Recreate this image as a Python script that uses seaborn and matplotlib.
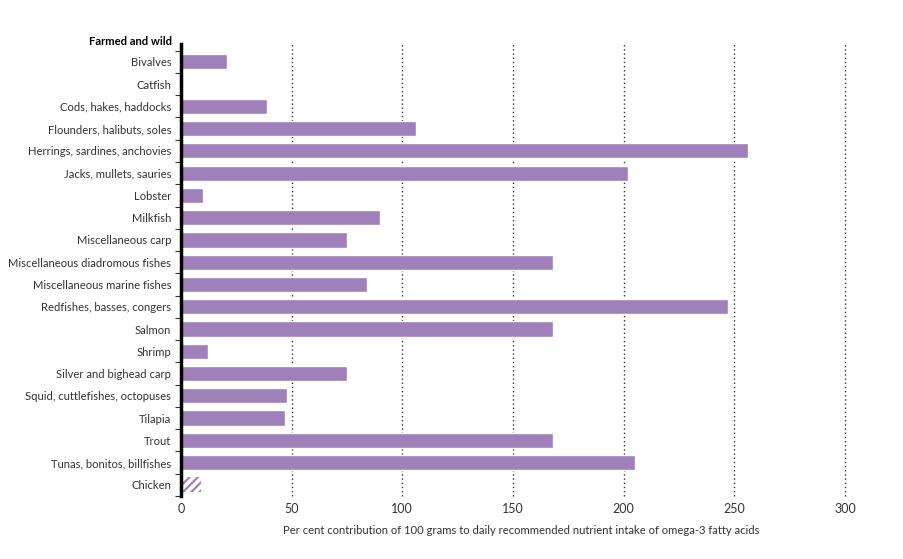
import matplotlib
matplotlib.use('Agg')
import matplotlib.pyplot as plt
import seaborn as sns
import numpy as np
import pandas as pd

# data
species = ['Bivalves', 'Catfish', 'Cods, hakes, haddocks', 'Flounders, halibuts, soles',
           'Herrings, sardines, anchovies', 'Jacks, mullets, sauries', 'Lobster', 'Milkfish',
           'Miscellaneous carp', 'Miscellaneous diadromous fishes', 'Miscellaneous marine fishes',
           'Redfishes, basses, congers', 'Salmon', 'Shrimp', 'Silver and bighead carp',
           'Squid, cuttlefishes, octopuses', 'Tilapia', 'Trout', 'Tunas, bonitos, billfishes',
           'Chicken']
omega3 = [21, 0, 39, 106, 256, 202, 10, 90, 75, 168, 84, 247, 168, 12, 75, 48, 47, 168, 205, 9]
x_ticks = [0, 50, 100, 150, 200, 250, 300]

purple = '#a080bb'

sns.set_style('white')
plt.rcParams['font.family'] = ['Lato', 'DejaVu Sans']
plt.rcParams['hatch.linewidth'] = 1.6

df = pd.DataFrame({'species': species, 'omega3': omega3})

fig = plt.figure(figsize=(9.04, 5.59), dpi=100)
ax = fig.add_axes([0.2002, 0.1127, 0.7345, 0.8086])

sns.barplot(data=df, x='omega3', y='species', color=purple, saturation=1,
            width=0.68, ax=ax, zorder=3)

# chicken is the hatched comparison bar
chick = ax.patches[len(species) - 1]
chick.set_facecolor('white')
chick.set_edgecolor(purple)
chick.set_linewidth(0)
chick.set_hatch('////')

for v in x_ticks[1:]:
    ax.axvline(v, color='#333333', linestyle=(0, (1, 2)), linewidth=1.0, zorder=1, clip_on=False)

ax.set_xlim(0, 300)
ax.set_ylim(len(species) - 0.5, -0.8)
ax.set_xticks(x_ticks)
ax.set_xticklabels([str(v) for v in x_ticks], fontsize=9, color='#333333')
ax.tick_params(axis='x', length=0, pad=5)
ax.tick_params(axis='y', which='major', length=0, pad=7, labelsize=8.1, labelcolor='#333333')
ax.set_yticks(np.arange(-0.5, len(species), 1), minor=True)
ax.tick_params(axis='y', which='minor', length=4, width=0.8, color='#333333', left=True)

ax.set_ylabel('')
ax.set_xlabel('Per cent contribution of 100 grams to daily recommended nutrient intake of omega-3 fatty acids',
              fontsize=8.1, color='#333333', labelpad=6)
ax.xaxis.set_label_coords(0.512, -0.065)

for s in ['top', 'right', 'bottom']:
    ax.spines[s].set_visible(False)
ax.spines['left'].set_linewidth(2.5)
ax.spines['left'].set_color('black')
ax.spines['left'].set_zorder(5)

ax.text(-0.0135, -0.9, 'Farmed and wild', transform=ax.get_yaxis_transform(),
        ha='right', va='center', fontsize=8.1, fontweight='bold', color='black')

plt.savefig('out.png', dpi=100)
